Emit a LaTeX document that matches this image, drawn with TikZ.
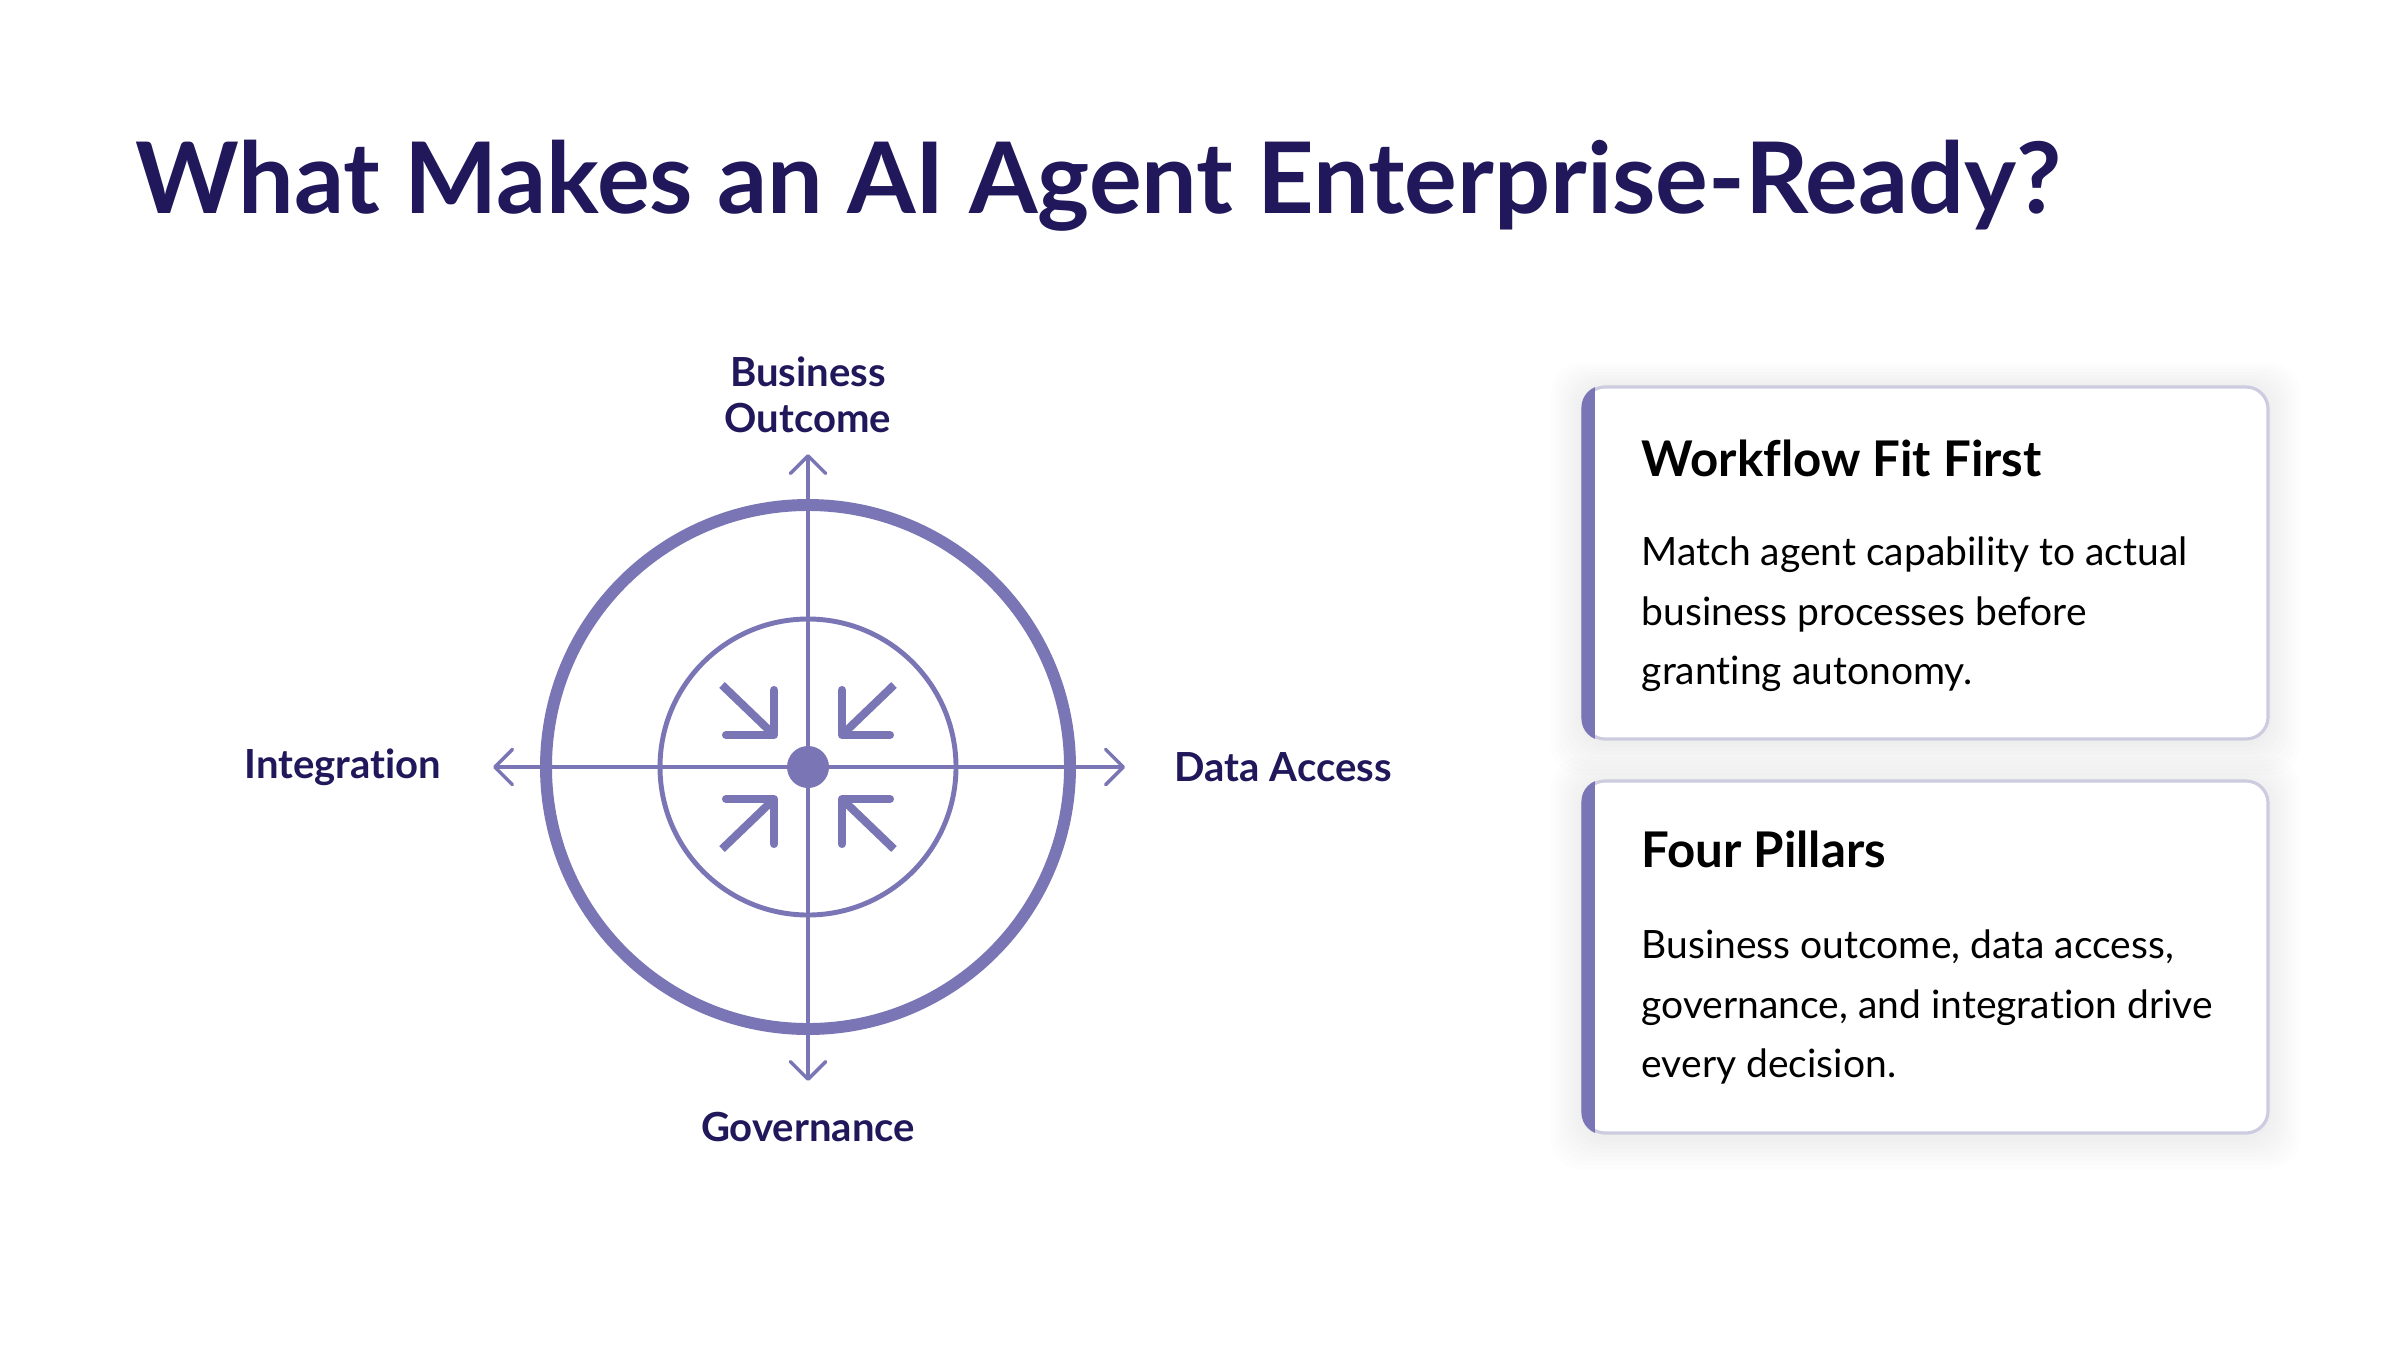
\documentclass[tikz,border=0pt]{standalone}
\usepackage{fontspec}
\setmainfont{Lato}[Ligatures=NoCommon]
\usetikzlibrary{arrows.meta}
\definecolor{navy}{HTML}{20185A}
\definecolor{lilac}{HTML}{7A76B6}
\definecolor{cardline}{HTML}{CDCBDF}

\begin{document}
\begin{tikzpicture}[
  axis/.style={lilac,line width=1pt,-{Straight Barb[length=5pt,width=10pt,round]}},
  pillar/.style={font=\fontsize{11.4}{13}\selectfont\bfseries,text=navy,align=center,inner sep=0pt},
  pull/.style={lilac,line width=2.3pt},
  card/.style={draw=cardline,line width=0.9pt,fill=white,rounded corners=0.22cm,minimum width=6.85cm,minimum height=3.52cm,inner sep=0pt},
  cardhead/.style={font=\fontsize{14}{16}\selectfont\bfseries,anchor=west,inner sep=0pt},
  cardbody/.style={font=\fontsize{11.1}{17}\selectfont,anchor=north west,align=left,inner sep=0pt}
]
\useasboundingbox (0,0) rectangle (24,13.5);
\fill[white] (0,0) rectangle (24,13.5);

% heading
\node[anchor=base west,inner sep=0pt,text=navy,font=\fontsize{28.1}{34}\selectfont\bfseries] (title) at (1.35,11.36) {What Makes an AI Agent Enterprise-Ready?};

% target with four axes
\coordinate (c) at (8.08,5.83);
\coordinate (n) at (8.08,8.96);
\coordinate (s) at (8.08,2.69);
\coordinate (w) at (4.93,5.83);
\coordinate (e) at (11.25,5.83);
\draw[lilac,line width=3.4pt] (c) circle (2.62);
\draw[lilac,line width=1.4pt] (c) circle (1.48);
\foreach \p in {n,s,w,e}
  \draw[axis] (c) -- (\p);
\fill[lilac] (c) circle (0.21);

% arrows pulling in
\foreach \sx/\sy in {1/1,1/-1,-1/1,-1/-1} {
  \draw[pull] ([shift={(\sx*0.86,\sy*0.82)}]c) -- ([shift={(\sx*0.36,\sy*0.34)}]c);
  \draw[pull,line cap=round,line join=round] ([shift={(\sx*0.82,\sy*0.32)}]c) -- ([shift={(\sx*0.34,\sy*0.32)}]c) -- ([shift={(\sx*0.34,\sy*0.77)}]c);
}

\node[pillar] (outcome) at (8.08,9.55) {Business\\Outcome};
\node[pillar,anchor=center] (gov) at (8.08,2.23) {Governance};
\node[pillar,anchor=east] (integ) at (4.42,5.83) {Integration};
\node[pillar,anchor=west] (data) at (11.74,5.83) {Data Access};

% soft shadows
\foreach \s in {1,...,8} {
  \fill[black,opacity=0.006,rounded corners=0.3cm] (15.83-\s*0.04,6.07-\s*0.04) rectangle (22.68+\s*0.04,9.63+\s*0.03);
  \fill[black,opacity=0.006,rounded corners=0.3cm] (15.83-\s*0.04,2.13-\s*0.04) rectangle (22.68+\s*0.04,5.69+\s*0.03);
}

% cards
\node[card] (fit) at (19.255,7.87) {};
\begin{scope}
  \clip[rounded corners=0.22cm] (fit.south west) rectangle (fit.north east);
  \fill[lilac] (fit.south west) rectangle ([xshift=0.14cm]fit.north west);
\end{scope}
\node[cardhead] (fithead) at (16.41,8.92) {Workflow Fit First};
\node[cardbody] (fitbody) at (16.41,8.14) {Match agent capability to actual\\business processes before\\granting autonomy.};

\node[card] (four) at (19.255,3.93) {};
\begin{scope}
  \clip[rounded corners=0.22cm] (four.south west) rectangle (four.north east);
  \fill[lilac] (four.south west) rectangle ([xshift=0.14cm]four.north west);
\end{scope}
\node[cardhead] (fourhead) at (16.41,5.01) {Four Pillars};
\node[cardbody] (fourbody) at (16.41,4.21) {Business outcome, data access,\\governance, and integration drive\\every decision.};
\end{tikzpicture}
\end{document}
